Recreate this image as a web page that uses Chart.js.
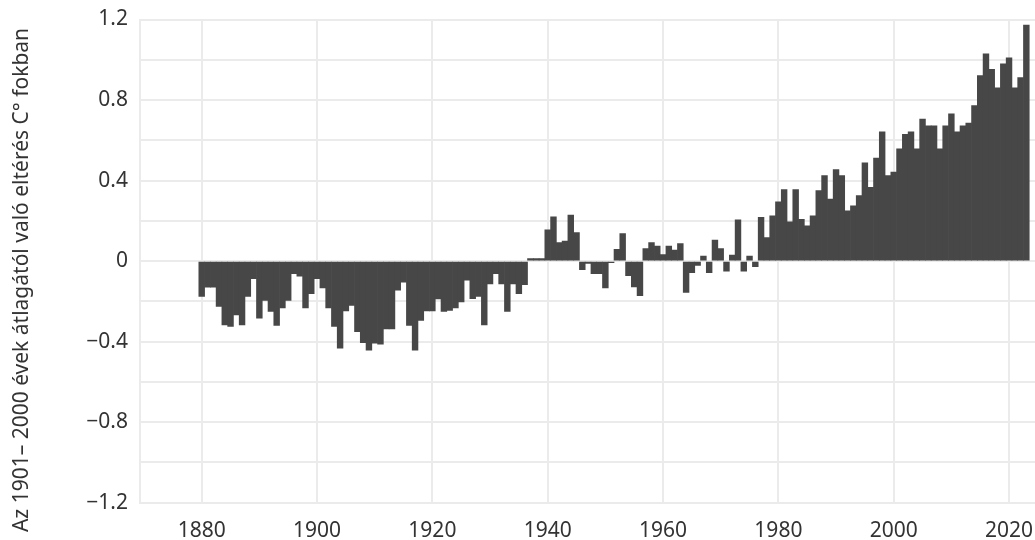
<!DOCTYPE html>
<html>
<head>
<meta charset="utf-8">
<script src="https://cdn.jsdelivr.net/npm/chart.js@4"></script>
<style>
  html, body { margin: 0; padding: 0; background: #fff; }
</style>
</head>
<body>
<canvas id="tempChart" width="1035" height="540"></canvas>
<script>
// ===== DATA =====
const years = [
  1880, 1881, 1882, 1883, 1884, 1885, 1886, 1887, 1888, 1889,
  1890, 1891, 1892, 1893, 1894, 1895, 1896, 1897, 1898, 1899,
  1900, 1901, 1902, 1903, 1904, 1905, 1906, 1907, 1908, 1909,
  1910, 1911, 1912, 1913, 1914, 1915, 1916, 1917, 1918, 1919,
  1920, 1921, 1922, 1923, 1924, 1925, 1926, 1927, 1928, 1929,
  1930, 1931, 1932, 1933, 1934, 1935, 1936, 1937, 1938, 1939,
  1940, 1941, 1942, 1943, 1944, 1945, 1946, 1947, 1948, 1949,
  1950, 1951, 1952, 1953, 1954, 1955, 1956, 1957, 1958, 1959,
  1960, 1961, 1962, 1963, 1964, 1965, 1966, 1967, 1968, 1969,
  1970, 1971, 1972, 1973, 1974, 1975, 1976, 1977, 1978, 1979,
  1980, 1981, 1982, 1983, 1984, 1985, 1986, 1987, 1988, 1989,
  1990, 1991, 1992, 1993, 1994, 1995, 1996, 1997, 1998, 1999,
  2000, 2001, 2002, 2003, 2004, 2005, 2006, 2007, 2008, 2009,
  2010, 2011, 2012, 2013, 2014, 2015, 2016, 2017, 2018, 2019,
  2020, 2021, 2022, 2023
];

// Deviation from the 1901-2000 average (°C)
const anomalies = [
  -0.175, -0.13, -0.13, -0.225, -0.317, -0.325, -0.267, -0.317, -0.175, -0.087,
  -0.283, -0.195, -0.25, -0.32, -0.233, -0.195, -0.062, -0.075, -0.233, -0.162,
  -0.087, -0.133, -0.233, -0.325, -0.433, -0.247, -0.22, -0.35, -0.405, -0.442,
  -0.408, -0.413, -0.337, -0.337, -0.145, -0.105, -0.32, -0.442, -0.295, -0.247,
  -0.247, -0.188, -0.25, -0.245, -0.233, -0.203, -0.095, -0.187, -0.175, -0.317,
  -0.113, -0.062, -0.113, -0.25, -0.113, -0.162, -0.117, 0.012, 0.012, 0.012,
  0.155, 0.22, 0.092, 0.10, 0.228, 0.142, -0.042, -0.012, -0.062, -0.062,
  -0.133, -0.008, 0.058, 0.137, -0.072, -0.128, -0.172, 0.062, 0.092, 0.075,
  0.033, 0.075, 0.055, 0.087, -0.155, -0.058, -0.022, 0.025, -0.058, 0.105,
  0.062, -0.05, 0.03, 0.205, -0.05, 0.025, -0.028, 0.217, 0.117, 0.225,
  0.295, 0.355, 0.195, 0.355, 0.208, 0.175, 0.225, 0.35, 0.425, 0.308,
  0.455, 0.425, 0.25, 0.275, 0.325, 0.488, 0.367, 0.512, 0.642, 0.425,
  0.442, 0.558, 0.63, 0.642, 0.558, 0.705, 0.672, 0.672, 0.558, 0.672,
  0.731, 0.642, 0.672, 0.686, 0.772, 0.922, 1.029, 0.952, 0.86, 0.98,
  1.009, 0.86, 0.911, 1.172
];

// Axis ticks
const xTickValues = [1880, 1900, 1920, 1940, 1960, 1980, 2000, 2020];
const yGridValues = [-1.2, -1.0, -0.8, -0.6, -0.4, -0.2, 0, 0.2, 0.4, 0.6, 0.8, 1.0, 1.2];
const yTickLabels = ['\u22121.2', '', '\u22120.8', '', '\u22120.4', '', '0', '', '0.4', '', '0.8', '', '1.2'];

const yTitle = 'Az 1901\u2013 2000 évek átlagától való eltérés C° fokban';

// ===== STYLE =====
const BAR_COLOR = '#474747';
const GRID_COLOR = '#ebebeb';
const TEXT_COLOR = '#333333';
const FONT = 'Noto Sans';

// y axis title, drawn rotated on the left side
const yTitlePlugin = {
  id: 'yTitle',
  afterDraw(chart) {
    const ctx = chart.ctx;
    ctx.save();
    ctx.translate(22, 280);
    ctx.rotate(-Math.PI / 2);
    ctx.font = `21px "${FONT}"`;
    ctx.fillStyle = TEXT_COLOR;
    ctx.textAlign = 'center';
    ctx.textBaseline = 'middle';
    ctx.fillText(yTitle, 0, 0);
    ctx.restore();
  }
};

// ===== CHART =====
const config = {
  type: 'bar',
  data: {
    datasets: [{
      data: years.map((year, i) => ({ x: year, y: anomalies[i] })),
      backgroundColor: BAR_COLOR,
      borderWidth: 0,
      barPercentage: 1,
      categoryPercentage: 1
    }]
  },
  options: {
    responsive: false,
    animation: false,
    devicePixelRatio: 1,
    layout: { padding: { top: 19.5, right: 0, bottom: 0, left: 0 } },
    plugins: {
      legend: { display: false },
      tooltip: { enabled: false }
    },
    scales: {
      x: {
        type: 'linear',
        min: 1869.3,
        max: 2024.5,
        offset: false,
        afterBuildTicks: (scale) => { scale.ticks = xTickValues.map(v => ({ value: v })); },
        afterFit: (scale) => {
          scale.height = 37.3;
          scale.paddingLeft = 0;
          scale.paddingRight = 0;
        },
        grid: { color: GRID_COLOR, lineWidth: 2, drawTicks: false, offset: false },
        border: { display: false },
        ticks: {
          color: TEXT_COLOR,
          font: { family: FONT, size: 21 },
          padding: 16,
          maxRotation: 0,
          autoSkip: false,
          callback: (v) => String(v)
        }
      },
      y: {
        min: -1.2,
        max: 1.2,
        afterBuildTicks: (scale) => { scale.ticks = yGridValues.map(v => ({ value: v })); },
        afterFit: (scale) => {
          scale.width = 140;
          scale.paddingTop = 0;
          scale.paddingBottom = 0;
        },
        grid: { color: GRID_COLOR, lineWidth: 2, drawTicks: false },
        border: { display: true, color: GRID_COLOR, width: 2 },
        ticks: {
          color: TEXT_COLOR,
          font: { family: FONT, size: 21 },
          padding: 12,
          autoSkip: false,
          callback: (v, i) => yTickLabels[i]
        }
      }
    }
  },
  plugins: [yTitlePlugin]
};

new Chart(document.getElementById('tempChart'), config);
</script>
</body>
</html>
